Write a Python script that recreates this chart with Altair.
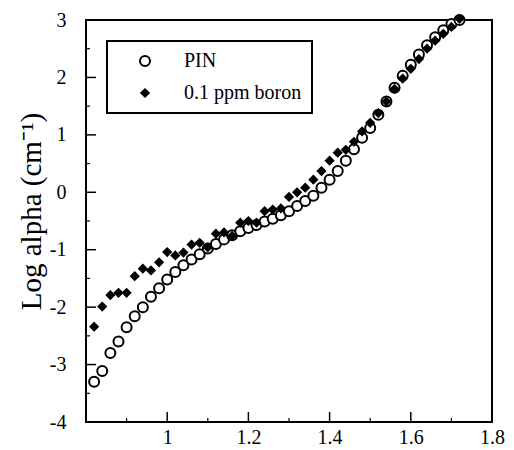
import altair as alt
import pandas as pd

# ---- data ----
x_vals = [0.82, 0.84, 0.86, 0.88, 0.90, 0.92, 0.94, 0.96, 0.98, 1.00,
          1.02, 1.04, 1.06, 1.08, 1.10, 1.12, 1.14, 1.16, 1.18, 1.20,
          1.22, 1.24, 1.26, 1.28, 1.30, 1.32, 1.34, 1.36, 1.38, 1.40,
          1.42, 1.44, 1.46, 1.48, 1.50, 1.52, 1.54, 1.56, 1.58, 1.60,
          1.62, 1.64, 1.66, 1.68, 1.70, 1.72]
pin_vals = [-3.30, -3.11, -2.80, -2.60, -2.35, -2.16, -2.00, -1.82, -1.67, -1.52,
            -1.39, -1.27, -1.17, -1.08, -0.98, -0.90, -0.82, -0.75, -0.68, -0.62,
            -0.57, -0.51, -0.46, -0.40, -0.33, -0.24, -0.15, -0.06, 0.08, 0.22,
            0.37, 0.55, 0.75, 0.95, 1.12, 1.35, 1.58, 1.82, 2.03, 2.22,
            2.40, 2.56, 2.70, 2.82, 2.93, 3.00]
boron_vals = [-2.34, -1.99, -1.79, -1.75, -1.75, -1.46, -1.33, -1.36, -1.22, -1.04,
              -1.10, -1.05, -0.91, -0.88, -0.96, -0.72, -0.70, -0.76, -0.53, -0.50,
              -0.53, -0.33, -0.30, -0.28, -0.08, 0.00, 0.08, 0.22, 0.37, 0.55,
              0.69, 0.74, 0.88, 1.06, 1.21, 1.38, 1.58, 1.80, 1.98, 2.15,
              2.32, 2.50, 2.64, 2.76, 2.88, 3.02]
series_names = ["PIN", "0.1 ppm boron"]

x_major = [1.0, 1.2, 1.4, 1.6]
x_minor = [0.9, 1.1, 1.3, 1.5, 1.7]
y_major = [-3, -2, -1, 0, 1, 2]
y_minor = [-3.5, -2.5, -1.5, -0.5, 0.5, 1.5, 2.5]
x_labels = [1.0, 1.2, 1.4, 1.6, 1.8]
y_labels = [-4, -3, -2, -1, 0, 1, 2, 3]

W, H = 406, 402
FONT = "Liberation Serif"

df = pd.DataFrame({
    "x": x_vals * 2,
    "y": pin_vals + boron_vals,
    "series": [series_names[0]] * len(x_vals) + [series_names[1]] * len(x_vals),
})

xscale = alt.Scale(domain=[0.8, 1.8], nice=False, zero=False)
yscale = alt.Scale(domain=[-4, 3], nice=False, zero=False)

leg = alt.Legend(title=None, orient="none", legendX=21, legendY=21, symbolStrokeWidth=2)

points = alt.Chart(df).mark_point(filled=True, strokeWidth=2, opacity=1).encode(
    x=alt.X("x:Q", scale=xscale,
            axis=alt.Axis(values=x_labels, labelExpr="datum.value + ''", ticks=False, domain=False,
                          grid=False, labelFont=FONT, labelFontSize=20, labelColor="black",
                          labelPadding=5, labelFlush=False),
            title=None),
    y=alt.Y("y:Q", scale=yscale,
            axis=alt.Axis(values=y_labels, labelExpr="datum.value + ''", ticks=False, domain=False,
                          grid=False, labelFont=FONT, labelFontSize=20, labelColor="black",
                          labelPadding=20, labelFlush=False,
                          title="Log alpha (cm\u207b\u00b9)", titleFont=FONT, titleFontSize=29,
                          titleFontWeight="normal", titleColor="black", titlePadding=3,
                          titleY=191)),
    shape=alt.Shape("series:N", scale=alt.Scale(domain=series_names, range=["circle", "diamond"]),
                    legend=leg),
    fill=alt.Fill("series:N", scale=alt.Scale(domain=series_names, range=["white", "black"]),
                  legend=leg),
    stroke=alt.Stroke("series:N", scale=alt.Scale(domain=series_names, range=["black", "black"]),
                      legend=leg),
    size=alt.Size("series:N", scale=alt.Scale(domain=series_names, range=[100, 55]),
                  legend=leg),
)

xmaj = alt.Chart(pd.DataFrame({"v": x_major})).mark_rule(color="black", strokeWidth=1.5).encode(
    x=alt.X("v:Q", scale=xscale), y=alt.value(H), y2=alt.value(H - 10))
xmin = alt.Chart(pd.DataFrame({"v": x_minor})).mark_rule(color="black", strokeWidth=1.2).encode(
    x=alt.X("v:Q", scale=xscale), y=alt.value(H), y2=alt.value(H - 4))
ymaj = alt.Chart(pd.DataFrame({"v": y_major})).mark_rule(color="black", strokeWidth=1.5).encode(
    y=alt.Y("v:Q", scale=yscale), x=alt.value(0), x2=alt.value(10))
ymin = alt.Chart(pd.DataFrame({"v": y_minor})).mark_rule(color="black", strokeWidth=1.2).encode(
    y=alt.Y("v:Q", scale=yscale), x=alt.value(0), x2=alt.value(4))

chart = alt.layer(xmaj, xmin, ymaj, ymin, points).properties(
    width=W, height=H,
    autosize=alt.AutoSizeParams(type="none"),
    padding={"left": 86, "top": 20, "right": 22, "bottom": 28},
    background="white",
).configure_view(stroke="black", strokeWidth=2).configure_legend(
    fillColor="white", strokeColor="black", strokeWidth=2,
    padding=10, symbolOffset=18, labelOffset=29, rowPadding=12,
    labelFont=FONT, labelFontSize=20, labelColor="black",
)

chart.save("out.html", embed_options={"renderer": "svg", "actions": False})
